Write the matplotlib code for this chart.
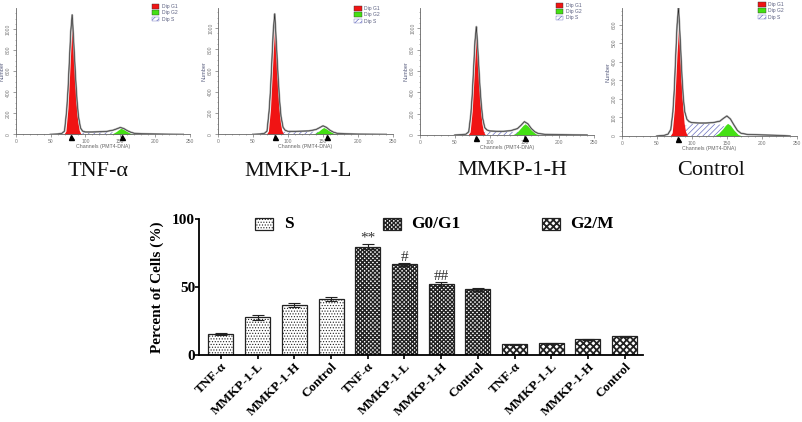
import matplotlib
matplotlib.use('Agg')
import matplotlib.pyplot as plt
from matplotlib.patches import Patch, Rectangle

W, H = 803, 422

# histogram data ------------------------
captions = ['TNF-α', 'MMKP-1-L', 'MMKP-1-H', 'Control']
total_ch = [50, 60, 66, 70, 73, 75, 77, 79, 81, 82, 84, 86, 88, 90, 93, 96, 100, 110, 120, 130, 140, 145, 150, 155, 160, 165, 170, 180, 200, 220, 240]
g1_ch = [69, 72, 75, 77, 79, 81, 83, 85, 87, 89, 91, 93, 95]
s_ch = [84, 90, 100, 110, 120, 130, 140, 150, 160, 166]
g2_ch = [132, 138, 144, 148, 151, 155, 160, 166, 172]

total_1 = [0, 3, 8, 30, 220, 420, 700, 980, 1135, 1030, 780, 530, 320, 170, 60, 30, 22, 22, 24, 27, 40, 52, 65, 55, 35, 20, 10, 5, 3, 1, 0]
g1_1 = [0, 30, 250, 520, 800, 1040, 800, 520, 280, 120, 40, 10, 0]
s_1 = [8, 18, 20, 20, 20, 20, 20, 15, 5, 0]
g2_1 = [0, 3, 25, 45, 58, 45, 25, 4, 0]

total_2 = [0, 3, 8, 30, 220, 420, 700, 980, 1135, 1030, 780, 530, 320, 170, 65, 38, 28, 28, 30, 32, 45, 62, 80, 65, 38, 20, 10, 5, 2, 1, 0]
g1_2 = [0, 30, 240, 505, 780, 1010, 780, 505, 270, 115, 40, 10, 0]
s_2 = [10, 22, 25, 25, 25, 25, 25, 20, 6, 0]
g2_2 = [0, 5, 30, 52, 64, 50, 28, 6, 0]

total_3 = [0, 3, 8, 30, 190, 370, 620, 880, 1015, 920, 700, 470, 290, 160, 70, 48, 38, 35, 35, 40, 60, 90, 125, 105, 60, 30, 14, 6, 3, 1, 0]
g1_3 = [0, 28, 225, 465, 715, 930, 715, 465, 250, 105, 37, 9, 0]
s_3 = [12, 28, 32, 32, 30, 30, 30, 25, 8, 0]
g2_3 = [0, 15, 60, 90, 105, 85, 45, 12, 0]

total_4 = [0, 3, 10, 35, 130, 250, 430, 600, 690, 630, 480, 320, 200, 130, 90, 78, 72, 70, 70, 72, 80, 95, 108, 92, 60, 30, 15, 8, 6, 4, 0]
g1_4 = [0, 18, 140, 290, 450, 580, 450, 290, 160, 70, 25, 6, 0]
s_4 = [25, 55, 65, 65, 65, 65, 62, 45, 15, 0]
g2_4 = [0, 14, 38, 58, 68, 58, 32, 8, 0]

g1_marks = [80, 82, 81, 80]
g2_marks = [152, 156, 151, None]
x_ticks = [0, 50, 100, 150, 200, 250]
y_ticks_1000 = [0, 200, 400, 600, 800, 1000]
y_ticks_600 = [0, 100, 200, 300, 400, 500, 600]

# bar chart data ------------------------
bar_labels = ['TNF-α', 'MMKP-1-L', 'MMKP-1-H', 'Control'] * 3
s_vals = [15.4, 27.8, 36.6, 41.2]
g0_vals = [79.7, 66.7, 52.2, 48.3]
g2_vals = [7.8, 8.6, 11.5, 13.7]
s_err = [1.0, 1.8, 1.5, 1.2]
g0_err = [2.0, 1.0, 1.6, 1.0]
g2_err = [0.4, 0.4, 0.4, 0.4]

plt.rcParams['font.family'] = ['Liberation Sans', 'DejaVu Sans']
SERIF = ['Liberation Serif', 'DejaVu Serif']
INK = '#5a5f80'

fig = plt.figure(figsize=(W / 100, H / 100), dpi=100)


def px_axes(left, right, top, bottom):
    return fig.add_axes([left / W, 1 - bottom / H, (right - left) / W, (bottom - top) / H])


def histogram(box, ymax, yticks, total, g1, s, g2, g1_mark, g2_mark, legend_xy):
    ax = px_axes(*box)
    ax.set_xlim(0, 250)
    ax.set_ylim(0, ymax)
    plt.rcParams['hatch.linewidth'] = 0.5
    ax.fill_between(s_ch, s, color='white', edgecolor='#6a70c0', hatch='//////', linewidth=0)
    ax.fill_between(g1_ch, g1, color='#f01414', linewidth=0)
    ax.fill_between(g2_ch, g2, color='#44e014', linewidth=0)
    ax.plot(total_ch, total, color='#a8a8a8', lw=1.4)
    ax.plot(total_ch, total, color='#222222', lw=0.4)
    for m in (g1_mark, g2_mark):
        if m is not None:
            ax.plot(m, -ymax * 0.022, marker='^', ms=3.6, color='black', clip_on=False)
    ax.set_xticks(x_ticks)
    ax.set_xticks(range(0, 251, 10), minor=True)
    ax.set_yticks(yticks)
    ax.set_yticks(range(0, int(ymax), 50 if ymax > 1000 else 25), minor=True)
    ax.tick_params(which='major', length=2, width=0.5, labelsize=3.6, pad=1.5, colors='#777777')
    ax.tick_params(which='minor', length=1, width=0.4, colors='#777777')
    plt.setp(ax.get_yticklabels(), rotation=90, va='center')
    ax.set_xlabel('Channels (PMT4-DNA)', fontsize=3.8, color='#666666', labelpad=0)
    ax.set_ylabel('Number', fontsize=4, color=INK, labelpad=1)
    for side in ('top', 'right'):
        ax.spines[side].set_visible(False)
    for side in ('left', 'bottom'):
        ax.spines[side].set_color('#666666')
        ax.spines[side].set_linewidth(0.6)
    handles = [Patch(facecolor='#f01414', edgecolor='#333333', lw=0.3, label='Dip G1'),
               Patch(facecolor='#44e014', edgecolor='#333333', lw=0.3, label='Dip G2'),
               Patch(facecolor='white', edgecolor='#6a70c0', lw=0.3, hatch='//////', label='Dip S')]
    ax.legend(handles=handles, loc='upper left', frameon=False, fontsize=3.6, labelcolor=INK,
              handlelength=1.5, handleheight=1.0, handletextpad=0.5, labelspacing=0.25,
              borderpad=0, borderaxespad=0, bbox_to_anchor=(legend_xy[0] / W, 1 - legend_xy[1] / H),
              bbox_transform=fig.transFigure)
    return ax


histogram((15.7, 190, 8, 134.3), 1200, y_ticks_1000, total_1, g1_1, s_1, g2_1, g1_marks[0], g2_marks[0], (152, 4))
histogram((218, 393, 8, 134.3), 1190, y_ticks_1000, total_2, g1_2, s_2, g2_2, g1_marks[1], g2_marks[1], (354.5, 6))
histogram((420, 594, 8, 135), 1190, y_ticks_1000, total_3, g1_3, s_3, g2_3, g1_marks[2], g2_marks[2], (556, 3))
histogram((621.7, 797, 8, 136), 690, y_ticks_600, total_4, g1_4, s_4, g2_4, g1_marks[3], g2_marks[3], (758.5, 2))

for name, cx, cy in zip(captions, [98, 298, 512, 711], [171, 171, 170, 170]):
    fig.text(cx / W, 1 - cy / H, name, family=SERIF, fontsize=16, ha='center', va='center', color='#111111')

# 막대 그래프 ---------------------------
ax = px_axes(199.3, 643, 219, 355)
ax.set_xlim(-0.59, 11.5)
ax.set_ylim(0, 100)

groups = [(s_vals, s_err, '......', 0.5, 0), (g0_vals, g0_err, 'xxxxxxxx', 1.0, 4), (g2_vals, g2_err, 'xxxxx', 1.3, 8)]
for vals, errs, hatch, hatch_lw, start in groups:
    plt.rcParams['hatch.linewidth'] = hatch_lw
    xs = range(start, start + 4)
    ax.bar(xs, vals, width=0.68, facecolor='white', edgecolor='#222222', hatch=hatch, linewidth=0.9,
           yerr=errs, error_kw=dict(ecolor='#222222', elinewidth=0.8, capsize=4, capthick=0.8))

for i, mark in [(4, '**'), (5, '#'), (6, '##')]:
    top = (s_vals + g0_vals)[i] + (s_err + g0_err)[i]
    ax.text(i, top - 0.5, mark, family=SERIF, fontsize=11, ha='center', va='bottom', color='#333333', linespacing=1)

ax.set_xticks(range(12))
ax.set_xticklabels(bar_labels, rotation=45, ha='right', rotation_mode='anchor', family=SERIF,
                   fontsize=9.5, fontweight='bold')
ax.set_yticks([0, 50, 100])
ax.set_yticklabels(['0', '50', '100'], family=SERIF, fontsize=11, fontweight='bold')
ax.tick_params(axis='both', length=3, width=1.2, pad=1)
ax.tick_params(axis='y', pad=0)
ax.set_ylabel('Percent of Cells (%)', family=SERIF, fontsize=11, fontweight='bold', labelpad=6)
for side in ('top', 'right'):
    ax.spines[side].set_visible(False)
for side in ('left', 'bottom'):
    ax.spines[side].set_linewidth(1.3)

# 범례 ----------------------------------
legend_items = [('S', 255, 284, '......', 0.5), ('G0/G1', 383, 411, 'xxxxxxxx', 1.0), ('G2/M', 542, 570, 'xxxxx', 1.3)]
for name, x0, xt, hatch, hatch_lw in legend_items:
    plt.rcParams['hatch.linewidth'] = hatch_lw
    fig.add_artist(Rectangle((x0 / W, 1 - 230 / H), 18 / W, 12 / H, transform=fig.transFigure,
                             facecolor='white', edgecolor='#222222', hatch=hatch, linewidth=0.9))
    fig.text(xt / W, 1 - 224.5 / H, name, family=SERIF, fontsize=12.5, fontweight='bold', ha='left', va='center')

fig.savefig('out.png', dpi=100)
